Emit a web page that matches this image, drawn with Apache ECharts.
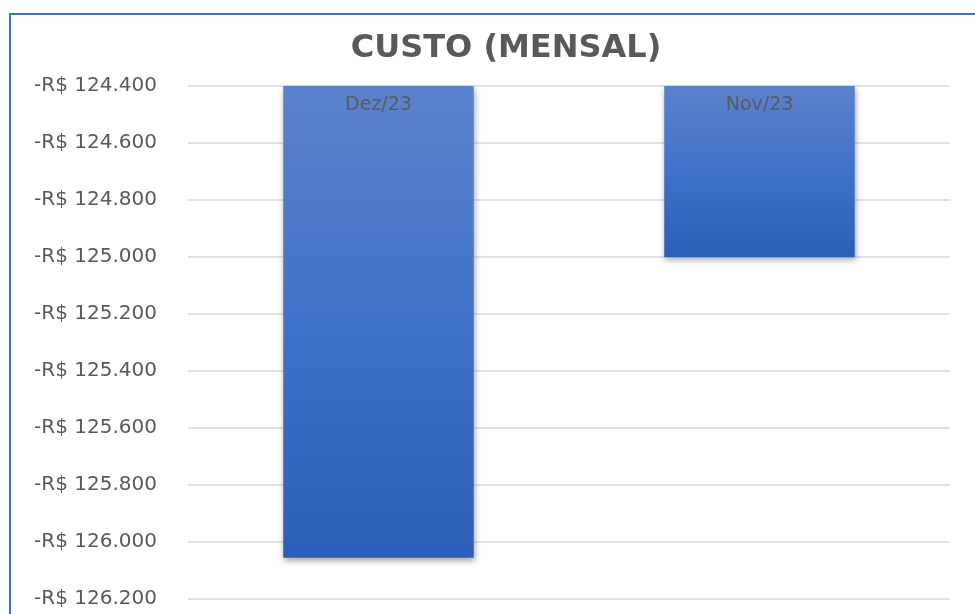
<!DOCTYPE html>
<html>
<head>
<meta charset="utf-8">
<script src="https://cdn.jsdelivr.net/npm/echarts@6/dist/echarts.min.js"></script>
<style>
  html, body { margin: 0; padding: 0; background: #fff; overflow: hidden; }
  #chart { width: 975px; height: 614px; }
</style>
</head>
<body>
<div id="chart"></div>
<script>
// dados do gráfico
var meses = ['Dez/23', 'Nov/23'];
var custo = [-126055, -125000];
var eixoMin = -126200;
var eixoMax = -124400;
var eixoPasso = 200;

// formata -124400 como "-R$ 124.400"
function formatarReal(v) {
    var s = String(Math.abs(Math.round(v)));
    s = s.replace(/\B(?=(\d{3})+(?!\d))/g, '.');
    return (v < 0 ? '-' : '') + 'R$ ' + s;
}

var myChart = echarts.init(document.getElementById('chart'));

var option = {
    backgroundColor: '#fff',
    animation: false,
    title: {
        text: 'CUSTO (MENSAL)',
        left: 501,
        textAlign: 'center',
        top: 28,
        textStyle: {
            fontFamily: 'DejaVu Sans',
            fontWeight: 'bold',
            fontSize: 32,
            color: '#595959'
        }
    },
    graphic: [{
        type: 'polyline',
        shape: { points: [[10, 640], [10, 14], [1000, 14]] },
        style: { stroke: '#4472C4', lineWidth: 2, fill: null },
        silent: true
    }],
    grid: {
        left: 188,
        right: 25,
        top: 86,
        bottom: 15
    },
    xAxis: {
        type: 'category',
        position: 'top',
        data: meses,
        z: 10,
        axisLine: { show: false },
        axisTick: { show: false },
        axisLabel: {
            inside: true,
            margin: 10,
            color: '#595959',
            fontFamily: 'DejaVu Sans',
            fontSize: 19
        }
    },
    yAxis: {
        type: 'value',
        min: eixoMin,
        max: eixoMax,
        interval: eixoPasso,
        axisLine: { show: false },
        axisTick: { show: false },
        splitLine: { lineStyle: { color: '#d9d9d9', width: 1.5 } },
        axisLabel: {
            margin: 31,
            color: '#595959',
            fontFamily: 'DejaVu Sans',
            fontSize: 20,
            formatter: formatarReal
        }
    },
    series: [{
        name: 'Custo',
        type: 'bar',
        data: custo,
        barWidth: '50%',
        clip: true,
        itemStyle: {
            color: new echarts.graphic.LinearGradient(0, 0, 0, 1, [
                { offset: 0, color: '#5B82CC' },
                { offset: 0.5, color: '#4071C8' },
                { offset: 1, color: '#2D5FB8' }
            ]),
            shadowBlur: 6,
            shadowOffsetX: 1,
            shadowOffsetY: 3,
            shadowColor: 'rgba(0,0,0,0.35)'
        }
    }]
};

myChart.setOption(option);
</script>
</body>
</html>
